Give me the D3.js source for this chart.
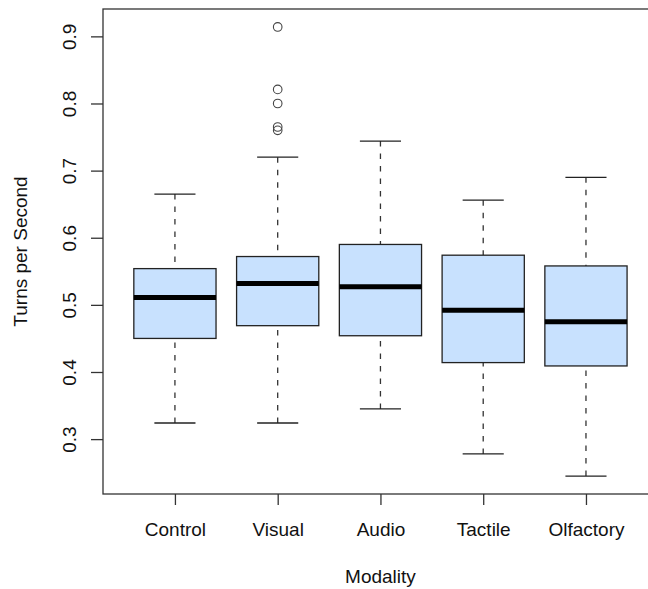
<!DOCTYPE html>
<html>
<head>
<meta charset="utf-8">
<script src="https://cdn.jsdelivr.net/npm/d3@7"></script>
<style>
  html, body { margin: 0; padding: 0; background: #fff; }
  svg { display: block; }
  text { font-family: "Liberation Sans", Arial, sans-serif; fill: #111; }
</style>
</head>
<body>
<script>
// ---- data ----
const categories = ["Control", "Visual", "Audio", "Tactile", "Olfactory"];
const whiskerLow  = [0.324, 0.324, 0.345, 0.278, 0.245];
const q1          = [0.450, 0.469, 0.454, 0.414, 0.409];
const medians     = [0.511, 0.532, 0.527, 0.492, 0.475];
const q3          = [0.554, 0.572, 0.590, 0.574, 0.558];
const whiskerHigh = [0.665, 0.720, 0.744, 0.656, 0.690];
const outlierGroup = [1, 1, 1, 1, 1];
const outlierValue = [0.914, 0.821, 0.800, 0.765, 0.760];
const yTicks = [0.3, 0.4, 0.5, 0.6, 0.7, 0.8, 0.9];
const xTitle = "Modality";
const yTitle = "Turns per Second";

// ---- layout ----
const W = 648, H = 589;
const svg = d3.select("body").append("svg").attr("width", W).attr("height", H);

const allVals = whiskerLow.concat(whiskerHigh, outlierValue);
const vmin = d3.min(allVals), vmax = d3.max(allVals);
const pad = (vmax - vmin) * 0.04;
const y = d3.scaleLinear().domain([vmin - pad, vmax + pad]).range([494, 9]);
const n = categories.length;
const xlo = 0.5, xhi = n + 0.5, xext = (xhi - xlo) * 0.04;
const x = d3.scaleLinear().domain([xlo - xext, xhi + xext]).range([103, 657.9]);

const unit = x(2) - x(1);
const boxW = unit * 0.8;
const capW = boxW * 0.5;

// plot border
svg.append("rect")
  .attr("x", x.range()[0]).attr("y", y.range()[1])
  .attr("width", x.range()[1] - x.range()[0])
  .attr("height", y.range()[0] - y.range()[1])
  .attr("fill", "none").attr("stroke", "#333").attr("stroke-width", 1.3);

const g = svg.append("g");
categories.forEach((c, i) => {
  const cx = x(i + 1);
  // whiskers
  g.append("line").attr("x1", cx).attr("x2", cx)
    .attr("y1", y(whiskerHigh[i])).attr("y2", y(q3[i]))
    .attr("stroke", "#333").attr("stroke-width", 1.3).attr("stroke-dasharray", "5.5,7");
  g.append("line").attr("x1", cx).attr("x2", cx)
    .attr("y1", y(whiskerLow[i])).attr("y2", y(q1[i]))
    .attr("stroke", "#333").attr("stroke-width", 1.3).attr("stroke-dasharray", "5.5,7");
  // caps
  [whiskerHigh[i], whiskerLow[i]].forEach(v => {
    g.append("line").attr("x1", cx - capW / 2).attr("x2", cx + capW / 2)
      .attr("y1", y(v)).attr("y2", y(v))
      .attr("stroke", "#222").attr("stroke-width", 1.3);
  });
  // box
  g.append("rect")
    .attr("x", cx - boxW / 2).attr("width", boxW)
    .attr("y", y(q3[i])).attr("height", y(q1[i]) - y(q3[i]))
    .attr("fill", "#C8E1FE").attr("stroke", "#222").attr("stroke-width", 1.3);
  // median
  g.append("line").attr("x1", cx - boxW / 2).attr("x2", cx + boxW / 2)
    .attr("y1", y(medians[i])).attr("y2", y(medians[i]))
    .attr("stroke", "#000").attr("stroke-width", 5);
});

// outliers
outlierValue.forEach((v, k) => {
  g.append("circle").attr("cx", x(outlierGroup[k] + 1)).attr("cy", y(v)).attr("r", 4.3)
    .attr("fill", "none").attr("stroke", "#444").attr("stroke-width", 1.1);
});

// x axis
const xAxis = d3.axisBottom(x).tickValues(d3.range(1, n + 1))
  .tickFormat(d => categories[d - 1]).tickSize(11).tickSizeOuter(0);
const gx = svg.append("g").attr("transform", "translate(0,494)").call(xAxis);
gx.select(".domain").remove();
gx.selectAll(".tick line").attr("stroke", "#333").attr("stroke-width", 1.3);
gx.selectAll(".tick text").attr("y", 42).attr("dy", null)
  .attr("font-size", 19).attr("fill", "#111");

// y axis
const yAxis = d3.axisLeft(y).tickValues(yTicks).tickFormat(d3.format(".1f"))
  .tickSize(12).tickSizeOuter(0);
const gy = svg.append("g").attr("transform", "translate(103,0)").call(yAxis);
gy.select(".domain").remove();
gy.selectAll(".tick line").attr("stroke", "#333").attr("stroke-width", 1.3);
gy.selectAll(".tick text")
  .attr("x", null).attr("dy", null)
  .attr("transform", "translate(-27.5,0) rotate(-90)")
  .attr("text-anchor", "middle")
  .attr("font-size", 19).attr("fill", "#111");

// titles
svg.append("text").attr("x", x(3)).attr("y", 583)
  .attr("text-anchor", "middle").attr("font-size", 19).text(xTitle);
svg.append("text").attr("transform", `translate(27,${(y.range()[0] + y.range()[1]) / 2}) rotate(-90)`)
  .attr("text-anchor", "middle").attr("font-size", 19).text(yTitle);
</script>
</body>
</html>
